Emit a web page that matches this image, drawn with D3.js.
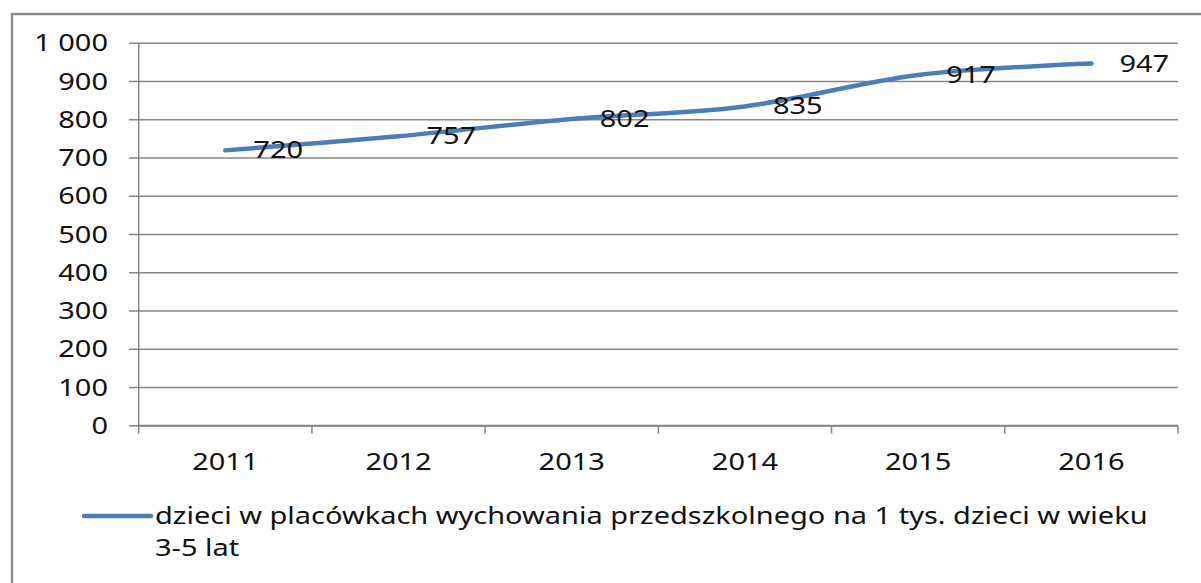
<!DOCTYPE html>
<html lang="pl">
<head>
<meta charset="UTF-8">
<title>Wykres</title>
<style>
  body { margin: 0; background: #fff; }
  svg { display: block; }
  text { font-family: 'Noto Sans', 'DejaVu Sans', sans-serif; fill: #111; }
</style>
</head>
<body>
<svg width="1201" height="583"></svg>
<script src="https://cdn.jsdelivr.net/npm/d3@7/dist/d3.min.js"></script>
<script>
const years = ["2011", "2012", "2013", "2014", "2015", "2016"];
const values = [720, 757, 802, 835, 917, 947];
const yTicks = [0, 100, 200, 300, 400, 500, 600, 700, 800, 900, 1000];
const legendLines = ["dzieci w placówkach wychowania przedszkolnego na 1 tys. dzieci w wieku", "3-5 lat"];

const svg = d3.select("svg");
const sx = 1.26; // text in the picture is stretched horizontally
const fs = 23;
const gridColor = "#868686";
const lineColor = "#4a7ebb";

// outer frame (only left and top visible)
svg.append("path")
  .attr("d", "M12,600 L12,14 L1210,14")
  .attr("fill", "none")
  .attr("stroke", "#8c8c8c")
  .attr("stroke-width", 2.5);

const x = d3.scaleBand().domain(years).range([138.7, 1178]);
const y = d3.scaleLinear().domain([0, 1000]).range([425.7, 43.3]);

// gridlines
svg.append("g").selectAll("line")
  .data(yTicks)
  .join("line")
  .attr("x1", 129).attr("x2", 1178)
  .attr("y1", d => y(d)).attr("y2", d => y(d))
  .attr("stroke", gridColor).attr("stroke-width", 1.5);

// y axis line
svg.append("line")
  .attr("x1", 138.7).attr("x2", 138.7)
  .attr("y1", y(1000)).attr("y2", y(0))
  .attr("stroke", gridColor).attr("stroke-width", 1.5);

// x axis line and ticks at category boundaries
svg.append("line")
  .attr("x1", 138.7).attr("x2", 1178)
  .attr("y1", y(0)).attr("y2", y(0))
  .attr("stroke", gridColor).attr("stroke-width", 2);
const bounds = years.map(d => x(d)).concat([x.range()[1]]);
svg.append("g").selectAll("line")
  .data(bounds)
  .join("line")
  .attr("x1", d => d).attr("x2", d => d)
  .attr("y1", y(0)).attr("y2", y(0) + 8)
  .attr("stroke", gridColor).attr("stroke-width", 1.5);

const fmt = d => d >= 1000 ? d3.format(",")(d).replace(",", " ") : String(d);

// y labels
svg.append("g").selectAll("text")
  .data(yTicks)
  .join("text")
  .attr("transform", d => `translate(108,${y(d)}) scale(${sx},1)`)
  .attr("text-anchor", "end")
  .attr("dy", "0.35em")
  .attr("font-size", fs)
  .text(fmt);

// x labels
svg.append("g").selectAll("text")
  .data(years)
  .join("text")
  .attr("transform", d => `translate(${x(d) + x.bandwidth() / 2},462) scale(${sx},1)`)
  .attr("text-anchor", "middle")
  .attr("dy", "0.35em")
  .attr("font-size", fs)
  .text(d => d);

// series line
const pts = years.map((d, i) => [x(d) + x.bandwidth() / 2, y(values[i])]);
svg.append("path")
  .attr("d", d3.line().curve(d3.curveCatmullRom.alpha(0.5))(pts))
  .attr("fill", "none")
  .attr("stroke", lineColor)
  .attr("stroke-width", 4.5)
  .attr("stroke-linecap", "round");

// data labels
svg.append("g").selectAll("text")
  .data(values)
  .join("text")
  .attr("transform", (d, i) => `translate(${pts[i][0] + 28},${pts[i][1]}) scale(${sx},1)`)
  .attr("dy", "0.35em")
  .attr("font-size", fs)
  .text(d => d);

// legend
svg.append("line")
  .attr("x1", 84).attr("x2", 151)
  .attr("y1", 516).attr("y2", 516)
  .attr("stroke", lineColor).attr("stroke-width", 4.5)
  .attr("stroke-linecap", "round");
svg.append("g").selectAll("text")
  .data(legendLines)
  .join("text")
  .attr("transform", (d, i) => `translate(155,${516 + i * 32}) scale(${sx},1)`)
  .attr("dy", "0.35em")
  .attr("font-size", fs)
  .text(d => d);
</script>
</body>
</html>
